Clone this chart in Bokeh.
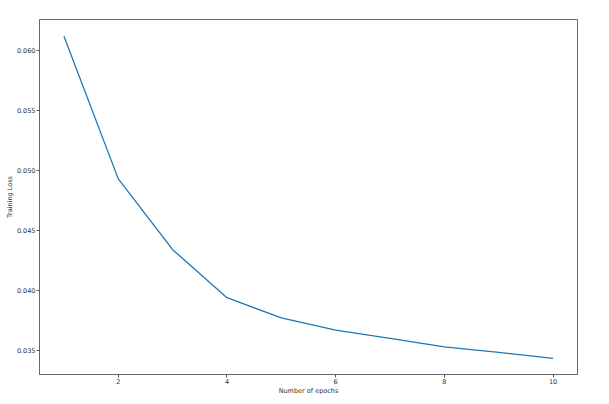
from bokeh.plotting import figure
from bokeh.models import FixedTicker, PrintfTickFormatter, Range1d
from bokeh.embed import file_html
from bokeh.resources import INLINE

epochs = [1, 2, 3, 4, 5, 6, 7, 8, 9, 10]
training_loss = [0.06115, 0.04927, 0.04337, 0.03937, 0.03769, 0.03666, 0.03598, 0.03527, 0.03481, 0.03431]
x_ticks = [2, 4, 6, 8, 10]
y_ticks = [0.035, 0.040, 0.045, 0.050, 0.055, 0.060]

p = figure(width=609, height=404, output_backend="svg", toolbar_location=None,
           x_range=Range1d(0.55, 10.45), y_range=Range1d(0.03297, 0.06255),
           min_border_left=39, min_border_right=32, min_border_top=19, min_border_bottom=30)

p.line(epochs, training_loss, line_color="#1f77b4", line_width=1.3)

p.xgrid.visible = False
p.ygrid.visible = False
p.outline_line_color = "#666666"
p.outline_line_width = 1

for ax in (p.xaxis[0], p.yaxis[0]):
    ax.axis_line_color = "#666666"
    ax.major_tick_line_color = "#555555"
    ax.major_tick_in = 0
    ax.major_tick_out = 3
    ax.minor_tick_line_color = None
    ax.major_label_text_font = "DejaVu Sans"
    ax.major_label_text_font_size = "6.5px"
    ax.major_label_text_color = "#333333"
    ax.axis_label_text_font = "DejaVu Sans"
    ax.axis_label_text_font_size = "6.5px"
    ax.axis_label_text_font_style = "normal"
    ax.axis_label_text_color = "#333333"
    ax.major_label_standoff = 1
    ax.axis_label_standoff = 0

p.xaxis.ticker = FixedTicker(ticks=x_ticks)
p.yaxis.ticker = FixedTicker(ticks=y_ticks)
p.yaxis.formatter = PrintfTickFormatter(format="%.3f")
p.xaxis.axis_label = "Number of epochs"
p.yaxis.axis_label = "Training Loss"

open("out.html", "w").write(file_html(p, INLINE))
